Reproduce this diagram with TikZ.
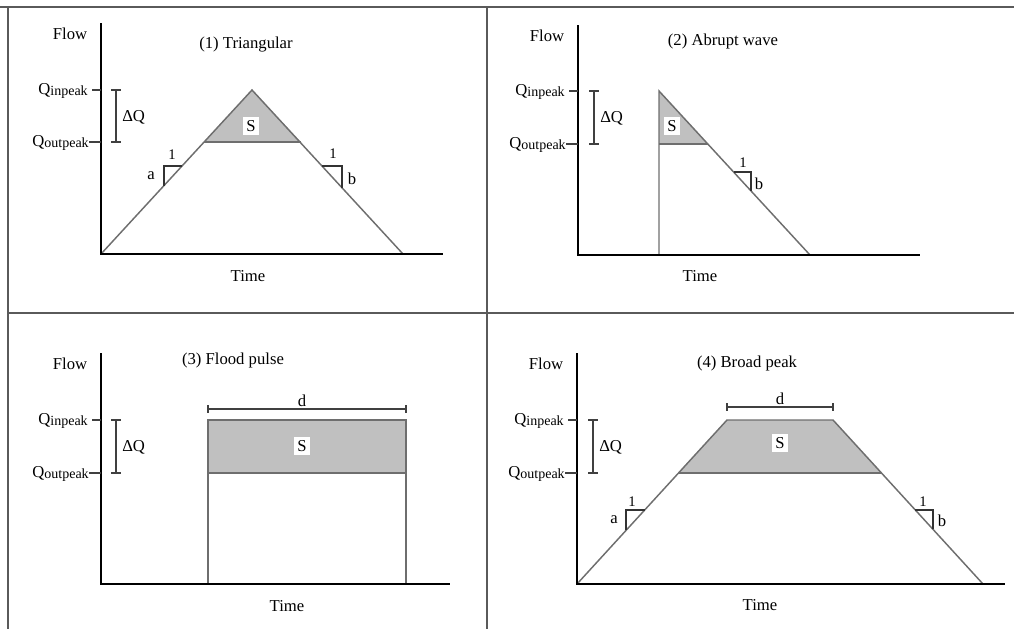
\documentclass[tikz,border=0pt]{standalone}
\usepackage{fontspec}
\setmainfont{Liberation Serif}
\definecolor{curvegray}{HTML}{6E6E6E}
\definecolor{fillgray}{HTML}{C0C0C0}
\definecolor{framegray}{HTML}{5A5A5A}
\newcommand{\Qin}{Q\raisebox{-1.2pt}{\fontsize{10.5}{11}\selectfont inpeak}}
\newcommand{\Qout}{Q\raisebox{-1.2pt}{\fontsize{10.5}{11}\selectfont outpeak}}
\begin{document}
\begin{tikzpicture}[x=0.75pt,y=-0.75pt,
    lbl/.style={font=\fontsize{12.5}{14}\selectfont, inner sep=0pt},
    one/.style={font=\fontsize{11}{12}\selectfont, inner sep=0pt},
    sbox/.style={fill=white, inner sep=2.5pt, font=\fontsize{12.5}{14}\selectfont},
    axis/.style={line width=2.2pt},
    curve/.style={draw=curvegray, line width=1.1pt},
    frame/.style={draw=framegray, line width=1.2pt},
    bar/.style={draw=black!75, line width=0.9pt},
    tri/.style={draw=black!80, line width=0.8pt}]
    \useasboundingbox (0,0) rectangle (1014,629);
    % table lines
    \draw[frame] (0,7) -- (1014,7);
    \draw[frame] (8,7) -- (8,629);
    \draw[frame] (487,7) -- (487,629);
    \draw[frame] (8,313) -- (1014,313);

    % (1) triangular
    \fill[fillgray] (204,142) -- (252,90) -- (301,142) -- cycle;
    \draw[curve] (101,254) -- (252,90) -- (403,254);
    \draw[curve] (204,142) -- (301,142);
    \draw[tri] (164,186) -- (164,166) -- (182,166);
    \draw[tri] (322,166) -- (342,166) -- (342,188);
    \node[one] (one1a) at (172,155) {1};
    \node[lbl] (a1) at (151,176) {a};
    \node[one] (one1b) at (333,154) {1};
    \node[lbl] (b1) at (352,179) {b};
    \node[sbox] (s1) at (251,126) {S};
    \node[lbl] (title1) at (246,45) {(1) Triangular};
    \node[lbl] (time1) at (248,276) {Time};

    % (2) abrupt wave
    \fill[fillgray] (659,91) -- (708,144) -- (659,144) -- cycle;
    \draw[curve] (659,255) -- (659,91) -- (810,255);
    \draw[curve] (659,144) -- (708,144);
    \draw[tri] (734,172) -- (751,172) -- (751,191);
    \node[one] (one2b) at (743,163) {1};
    \node[lbl] (b2) at (759,184) {b};
    \node[sbox] (s2) at (672,126) {S};
    \node[lbl] (title2) at (723,41) {(2) Abrupt wave};
    \node[lbl] (time2) at (700,276) {Time};

    % (3) flood pulse
    \fill[fillgray] (208,420) rectangle (406,473);
    \draw[curve] (208,584) -- (208,420) -- (406,420) -- (406,584);
    \draw[curve] (208,473) -- (406,473);
    \draw[bar] (208,405) -- (208,413) (208,409) -- (406,409) (406,405) -- (406,413);
    \node[lbl, anchor=base] (d3) at (302,406) {d};
    \node[sbox] (s3) at (302,446) {S};
    \node[lbl] (title3) at (233,360) {(3) Flood pulse};
    \node[lbl] (time3) at (287,606) {Time};

    % (4) broad peak
    \fill[fillgray] (678,473) -- (727,420) -- (833,420) -- (882,473) -- cycle;
    \draw[curve] (577,584) -- (727,420) -- (833,420) -- (983,584);
    \draw[curve] (678,473) -- (882,473);
    \draw[bar] (727,403) -- (727,411) (727,407) -- (833,407) (833,403) -- (833,411);
    \node[lbl, anchor=base] (d4) at (780,404) {d};
    \draw[tri] (626,530) -- (626,510) -- (645,510);
    \draw[tri] (915,510) -- (933,510) -- (933,529);
    \node[one] (one4a) at (632,502) {1};
    \node[lbl] (a4) at (614,520) {a};
    \node[one] (one4b) at (923,502) {1};
    \node[lbl] (b4) at (942,521) {b};
    \node[sbox] (s4) at (780,443) {S};
    \node[lbl] (title4) at (747,363) {(4) Broad peak};
    \node[lbl] (time4) at (760,605) {Time};

    % axes, peak levels and delta Q
    \foreach \ax/\ty/\by/\rx/\qi/\qo/\bx [count=\i] in
        {101/23/254/443/90/142/116, 578/25/255/920/91/144/594,
         101/353/584/450/420/473/116, 577/353/584/1005/420/473/593} {
        \draw[axis] (\ax,\ty) -- (\ax,\by) -- (\rx,\by);
        \node[lbl] (flow\i) at (\ax-31,\ty+11) {Flow};
        \draw[bar] (\ax-9,\qi) -- (\ax,\qi);
        \draw[bar] (\ax-12,\qo) -- (\ax,\qo);
        \node[lbl, anchor=base east] (qin\i) at (\ax-13,\qi+4) {\Qin};
        \node[lbl, anchor=base east] (qout\i) at (\ax-12,\qo+4) {\Qout};
        \draw[bar] (\bx-5,\qi) -- (\bx+5,\qi) (\bx,\qi) -- (\bx,\qo) (\bx-5,\qo) -- (\bx+5,\qo);
        \node[lbl, anchor=west] (dq\i) at (\bx+6,{(\qi+\qo)/2+1}) {ΔQ};
    }
\end{tikzpicture}
\end{document}
